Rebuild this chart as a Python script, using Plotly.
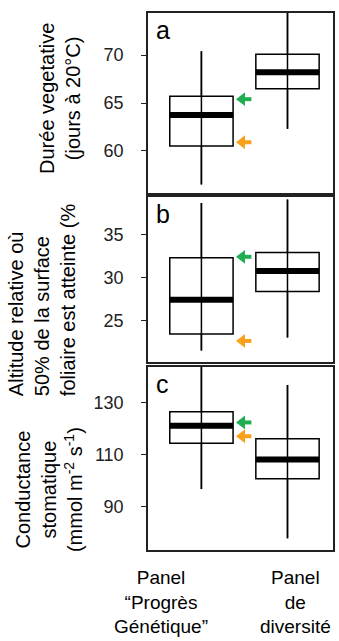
import plotly.graph_objects as go

# ---------------- data ----------------
groups = ["Panel<br>“Progrès<br>Génétique”", "Panel<br>de<br>diversité"]
positions = [1, 2]

# panel a : Durée végétative (jours à 20°C)
a_q1 = [60.5, 66.5]
a_med = [63.75, 68.2]
a_q3 = [65.7, 70.1]
a_lo = [56.5, 62.3]
a_hi = [70.4, 76.0]
a_arrows = [65.4, 60.9]      # green, orange

# panel b : Altitude relative (%)
b_q1 = [23.5, 28.4]
b_med = [27.45, 30.75]
b_q3 = [32.3, 32.9]
b_lo = [21.6, 23.1]
b_hi = [38.6, 39.0]
b_arrows = [32.4, 22.7]

# panel c : Conductance stomatique
c_q1 = [114.3, 100.7]
c_med = [121.0, 108.1]
c_q3 = [126.4, 116.0]
c_lo = [96.7, 77.8]
c_hi = [146.0, 136.7]
c_arrows = [122.3, 117.0]

a_ticks = [60, 65, 70]
b_ticks = [25, 30, 35]
c_ticks = [90, 110, 130]

panel_letters = ["a", "b", "c"]
y_titles = [
    "Durée vegetative<br>(jours à 20°C)",
    "Altitude relative où<br>50% de la surface<br>foliaire est atteinte (%",
    "Conductance<br>stomatique<br>(mmol m<sup>-2</sup> s<sup>-1</sup>)",
]
arrow_colors = ["#1fae52", "#f9a11b"]

# ---------------- figure ----------------
W, H = 339, 641
ML, MR, MT, MB = 148, 4, 13, 91
PW, PH = W - ML - MR, H - MT - MB
FONT = "Liberation Sans, Arial, sans-serif"
BOXW = 0.7356
XR = [0.3793, 2.5287]
PXU = PW / (XR[1] - XR[0])      # pixels per x unit
ARROW_TIP = 1.42

def px2x(px):
    return (px - ML) / PW

def px2y(py):
    return (H - MB - py) / PH

fig = go.Figure()

panels = [
    (a_q1, a_med, a_q3, a_lo, a_hi, a_arrows, a_ticks, [55.6, 74.4], [0.6648, 1.0]),
    (b_q1, b_med, b_q3, b_lo, b_hi, b_arrows, b_ticks, [20.27, 39.3], [0.3501, 0.6574]),
    (c_q1, c_med, c_q3, c_lo, c_hi, c_arrows, c_ticks, [73.3, 143.6], [0.0, 0.3408]),
]

for i, (q1, med, q3, lo, hi, arr, ticks, yr, dom) in enumerate(panels):
    n = "" if i == 0 else str(i + 1)
    xa, ya = "x" + n, "y" + n
    # box
    fig.add_trace(go.Box(
        x=positions, q1=q1, median=med, q3=q3, lowerfence=lo, upperfence=hi,
        width=BOXW, whiskerwidth=0, boxpoints=False,
        fillcolor="rgba(0,0,0,0)", line=dict(color="black", width=1.5),
        xaxis=xa, yaxis=ya, showlegend=False, hoverinfo="skip"))
    # whisker through the box
    wx, wy = [], []
    for p, l, h in zip(positions, lo, hi):
        wx += [p, p, None]
        wy += [l, h, None]
    fig.add_trace(go.Scatter(x=wx, y=wy, mode="lines",
                             line=dict(color="black", width=1.5),
                             xaxis=xa, yaxis=ya, showlegend=False, hoverinfo="skip"))
    # thick median
    mx, my = [], []
    for p, m in zip(positions, med):
        mx += [p - BOXW / 2, p + BOXW / 2, None]
        my += [m, m, None]
    fig.add_trace(go.Scatter(x=mx, y=my, mode="lines",
                             line=dict(color="black", width=6),
                             xaxis=xa, yaxis=ya, showlegend=False, hoverinfo="skip"))
    # arrows (tail + head)
    for val, col in zip(arr, arrow_colors):
        fig.add_trace(go.Scatter(
            x=[ARROW_TIP + 5 / PXU, ARROW_TIP + 14 / PXU], y=[val, val], mode="lines",
            line=dict(color=col, width=4), xaxis=xa, yaxis=ya,
            showlegend=False, hoverinfo="skip"))
        fig.add_trace(go.Scatter(
            x=[ARROW_TIP + 4.5 / PXU], y=[val], mode="markers",
            marker=dict(symbol="triangle-left", size=12, color=col,
                        line=dict(width=0)),
            xaxis=xa, yaxis=ya, showlegend=False, hoverinfo="skip"))
    # axes
    axis_line = dict(showline=True, mirror=True, linecolor="#222", linewidth=1.5,
                     showgrid=False, zeroline=False)
    fig.layout["xaxis" + n] = dict(range=XR, anchor=ya,
                                   showticklabels=False, ticks="", **axis_line)
    fig.layout["yaxis" + n] = dict(range=yr, domain=dom, anchor=xa,
                                   tickvals=ticks, ticks="outside", ticklen=5,
                                   tickcolor="#222", ticklabelstandoff=14,
                                   tickfont=dict(family=FONT, size=18, color="#222"),
                                   **axis_line)
    # panel letter
    fig.add_annotation(x=0, y=1, xref=xa + " domain", yref=ya + " domain",
                       xanchor="left", yanchor="top", xshift=6, yshift=-1,
                       text=panel_letters[i], showarrow=False,
                       font=dict(family=FONT, size=25, color="black"))

# y titles
title_pos = [(59, 98, "center"), (41, 300, "left"), (48, 490, "center")]
for t, (px, py, al) in zip(y_titles, title_pos):
    fig.add_annotation(x=px2x(px), y=px2y(py), xref="paper", yref="paper",
                       xanchor="center", yanchor="middle", textangle=-90,
                       align=al, text=t, showarrow=False,
                       font=dict(family=FONT, size=20, color="black"))

# group labels
for g, px in zip(groups, [161, 297]):
    fig.add_annotation(x=px2x(px), y=px2y(602), xref="paper", yref="paper",
                       xanchor="center", yanchor="middle", align="center",
                       text=g, showarrow=False,
                       font=dict(family=FONT, size=19, color="black"))

fig.update_layout(width=W, height=H,
                  margin=dict(l=ML, r=MR, t=MT, b=MB, pad=0),
                  paper_bgcolor="white", plot_bgcolor="white",
                  showlegend=False)

fig.write_html("out.html",
               config={"displayModeBar": False},
               post_script="document.body.style.margin='0px';"
                           "document.body.style.overflow='hidden';")
